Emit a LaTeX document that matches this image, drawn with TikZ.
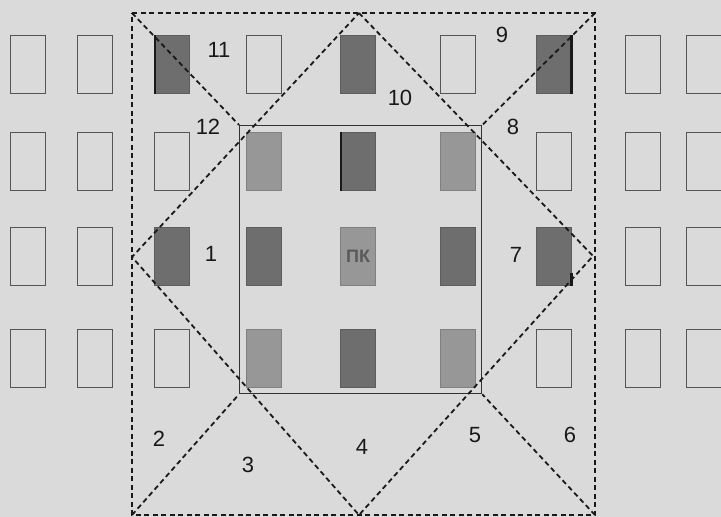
\documentclass[tikz,border=0pt]{standalone}
\usepackage{fontspec}
\setmainfont{Liberation Sans}
\definecolor{bgc}{HTML}{DADADA}
\definecolor{darkc}{HTML}{6E6E6E}
\definecolor{midc}{HTML}{979797}
\definecolor{wedge}{HTML}{555555}
\begin{document}
\begin{tikzpicture}[x=1pt,y=-1pt,
  win/.style={draw=wedge, line width=1.1pt, inner sep=0, minimum width=35pt, minimum height=58pt, anchor=north west, fill=bgc},
  darkwin/.style={win, fill=darkc, draw=darkc!85!black},
  midwin/.style={win, fill=midc, draw=midc!85!black},
  blackedge/.style={line width=2.8pt, black!90},
  cut/.style={dash pattern=on 5pt off 3.5pt, line width=1.8pt, black!90},
  num/.style={font=\fontsize{22}{22}\selectfont, text=black!90, inner sep=0}]
\path[fill=bgc] (0,0) rectangle (721,517);
\useasboundingbox (0,0) rectangle (721,517);
% row 1
\node[win] (w1-1) at (10,35) {};
\node[win] (w1-2) at (77,35) {};
\node[darkwin] (w1-3) at (154,35) {};
\node[win] (w1-4) at (246,35) {};
\node[darkwin] (w1-5) at (340,35) {};
\node[win] (w1-6) at (440,35) {};
\node[darkwin] (w1-7) at (536,35) {};
\node[win] (w1-8) at (625,35) {};
\node[win] (w1-9) at (686,35) {};
% row 2
\node[win] (w2-1) at (10,132) {};
\node[win] (w2-2) at (77,132) {};
\node[win] (w2-3) at (154,132) {};
\node[midwin] (w2-4) at (246,132) {};
\node[darkwin] (w2-5) at (340,132) {};
\node[midwin] (w2-6) at (440,132) {};
\node[win] (w2-7) at (536,132) {};
\node[win] (w2-8) at (625,132) {};
\node[win] (w2-9) at (686,132) {};
% row 3
\node[win] (w3-1) at (10,227) {};
\node[win] (w3-2) at (77,227) {};
\node[darkwin] (w3-3) at (154,227) {};
\node[darkwin] (w3-4) at (246,227) {};
\node[midwin, font=\bfseries\fontsize{18}{18}\selectfont, text=black!65] (w3-5) at (340,227) {ПК};
\node[darkwin] (w3-6) at (440,227) {};
\node[darkwin] (w3-7) at (536,227) {};
\node[win] (w3-8) at (625,227) {};
\node[win] (w3-9) at (686,227) {};
% row 4
\node[win] (w4-1) at (10,329) {};
\node[win] (w4-2) at (77,329) {};
\node[win] (w4-3) at (154,329) {};
\node[midwin] (w4-4) at (246,329) {};
\node[darkwin] (w4-5) at (340,329) {};
\node[midwin] (w4-6) at (440,329) {};
\node[win] (w4-7) at (536,329) {};
\node[win] (w4-8) at (625,329) {};
\node[win] (w4-9) at (686,329) {};
% black edges
\draw[blackedge] ([xshift=1pt]w1-3.north west) -- ([xshift=1pt]w1-3.south west);
\draw[blackedge] ([xshift=1pt]w2-5.north west) -- ([xshift=1pt]w2-5.south west);
\draw[blackedge] ([xshift=-1pt]w1-7.north east) -- ([xshift=-1pt]w1-7.south east);
\draw[blackedge] ([xshift=-1pt,yshift=-46pt]w3-7.north east) -- ([xshift=-1pt]w3-7.south east);
% inner room
\node[draw=black!80, line width=1.3pt, inner sep=0, minimum width=242pt, minimum height=268pt, anchor=north west] (inner) at (239,125) {};
% outer frame and diamond
\coordinate (otl) at (132,13);
\coordinate (otr) at (595,13);
\coordinate (obr) at (595,515);
\coordinate (obl) at (132,515);
\coordinate (dt) at (359,13);
\coordinate (dr) at (593,256);
\coordinate (db) at (359,515);
\coordinate (dl) at (132,257);
\draw[cut] (otl) -- (otr) -- (obr) -- (obl) -- cycle;
\draw[cut] (dt) -- (dr) -- (db) -- (dl) -- cycle;
\draw[cut] (otl) -- (inner.north west);
\draw[cut] (otr) -- (inner.north east);
\draw[cut] (obr) -- (inner.south east);
\draw[cut] (obl) -- (inner.south west);
% labels
\node[num] (l11) at (219,50) {11};
\node[num] (l12) at (208,127) {12};
\node[num] (l1) at (211,254) {1};
\node[num] (l9) at (502,35) {9};
\node[num] (l10) at (400,98) {10};
\node[num] (l8) at (513,127) {8};
\node[num] (l7) at (516,255) {7};
\node[num] (l2) at (159,439) {2};
\node[num] (l3) at (248,465) {3};
\node[num] (l4) at (362,447) {4};
\node[num] (l5) at (475,435) {5};
\node[num] (l6) at (570,435) {6};
\end{tikzpicture}
\end{document}
